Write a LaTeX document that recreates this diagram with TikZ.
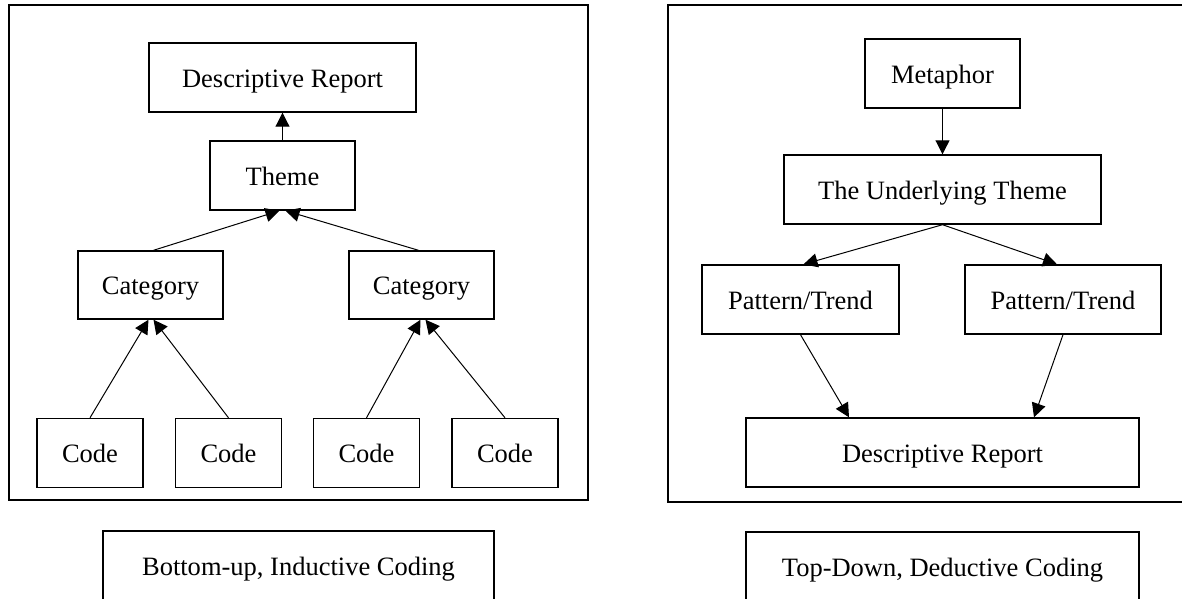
\documentclass[tikz,border=0pt]{standalone}
\usepackage{fontspec}
\setmainfont{Liberation Serif}
\usetikzlibrary{arrows.meta}
\begin{document}
\begin{tikzpicture}[x=1pt,y=-1pt,
  box/.style={draw, line width=1.4pt, inner sep=0pt, minimum height=69pt,
    text height=21pt, text depth=2pt, font=\fontsize{26.5}{30}\selectfont},
  panel/.style={draw, line width=2.4pt},
  link/.style={line width=1pt, -{Triangle[length=14pt,width=14pt]}}]
  \useasboundingbox (0,0) rectangle (1182,598);
  \clip (0,0) rectangle (1182,598);

  % ---------- left panel: bottom-up, inductive coding ----------
  \draw[panel] (9,5) rectangle (588,500);
  \node[box, minimum width=267pt] (drL)    at (282.5,77.5)  {Descriptive Report};
  \node[box, minimum width=145pt] (themeL) at (282.5,175.5) {Theme};
  \node[box, minimum width=145pt, minimum height=68pt] (catL) at (150.5,285) {Category};
  \node[box, minimum width=145pt, minimum height=68pt] (catR) at (421.5,285) {Category};
  \node[box, minimum width=106pt] (codeA) at (90,453)    {Code};
  \node[box, minimum width=106pt] (codeB) at (228.5,453) {Code};
  \node[box, minimum width=106pt] (codeC) at (366.5,453) {Code};
  \node[box, minimum width=106pt] (codeD) at (505,453)   {Code};
  \node[box, minimum width=391pt] (labL) at (298.5,565.5) {Bottom-up, Inductive Coding};

  \draw[link] (themeL.north) -- (drL.south);
  \draw[link] ([xshift=3pt]catL.north)  -- ([xshift=-3pt]themeL.south);
  \draw[link] ([xshift=-3pt]catR.north) -- ([xshift=3pt]themeL.south);
  \draw[link] (codeA.north) -- ([xshift=-2pt]catL.south);
  \draw[link] (codeB.north) -- ([xshift=3pt]catL.south);
  \draw[link] (codeC.north) -- ([xshift=-1pt]catR.south);
  \draw[link] (codeD.north) -- ([xshift=4pt]catR.south);

  % ---------- right panel: top-down, deductive coding ----------
  \draw[panel] (668,5) rectangle (1195,502);
  \node[box, minimum width=155pt] (meta) at (942.5,73.5)  {Metaphor\hspace{12pt}};
  \node[box, minimum width=317pt] (ut)   at (942.5,189.5) {The Underlying Theme\hspace{26pt}};
  \node[box, minimum width=197pt] (ptL)  at (800.5,299.5) {Pattern/Trend\hspace{10pt}};
  \node[box, minimum width=196pt] (ptR)  at (1063,299.5)  {Pattern/Trend\hspace{10pt}};
  \node[box, minimum width=393pt] (drR)  at (942.5,452.5) {Descriptive Report};
  \node[box, minimum width=393pt] (labR) at (942.5,566.5) {Top-Down, Deductive Coding};

  \draw[link] (meta.south) -- (ut.north);
  \draw[link] (ut.south) -- ([xshift=3pt]ptL.north);
  \draw[link] (ut.south) -- ([xshift=-6pt]ptR.north);
  \draw[link] (ptL.south) -- ([xshift=-93.5pt]drR.north);
  \draw[link] (ptR.south) -- ([xshift=91.5pt]drR.north);
\end{tikzpicture}
\end{document}
